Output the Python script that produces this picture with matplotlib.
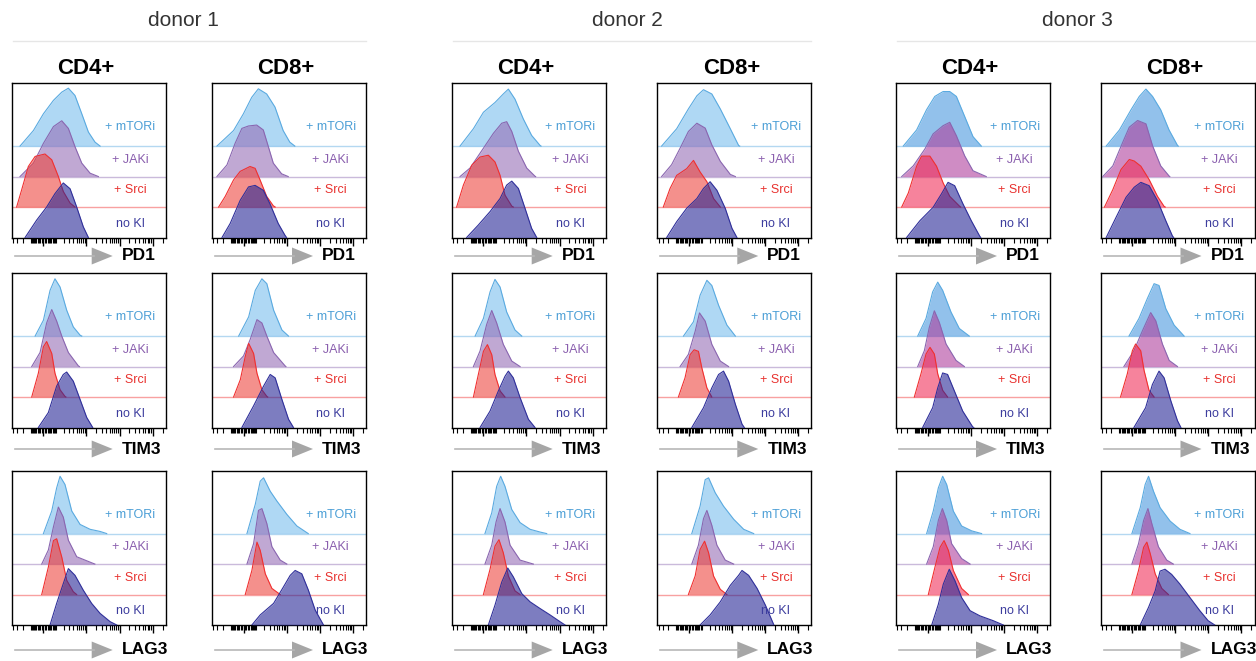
import numpy as np
import matplotlib

matplotlib.use("Agg")
import matplotlib.pyplot as plt
from matplotlib.patches import Polygon

plt.rcParams["font.family"] = ["Liberation Sans", "DejaVu Sans"]

DONORS = ["donor 1", "donor 2", "donor 3"]
CELLS = ["CD4+", "CD8+"]
MARKERS = ["PD1", "TIM3", "LAG3"]
CONDITIONS = ["+ mTORi", "+ JAKi", "+ Srci", "no KI"]

# each curve: (axis position 0..1, modal height in units of the stack offset)
# order inside a panel: mTORi, JAKi, Srci, no KI
D1_CD4_PD1 = [
    [(0.054, 0), (0.141, 0.51), (0.206, 1.06), (0.271, 1.50), (0.325, 1.77), (0.368, 1.90), (0.411, 1.66), (0.455, 1.06), (0.498, 0.46), (0.541, 0.13), (0.574, 0)],
    [(0.054, 0), (0.141, 0.44), (0.206, 1.09), (0.271, 1.64), (0.325, 1.83), (0.368, 1.58), (0.411, 0.98), (0.455, 0.44), (0.509, 0.11), (0.563, 0)],
    [(0.032, 0), (0.065, 0.57), (0.108, 1.33), (0.152, 1.66), (0.216, 1.74), (0.260, 1.55), (0.303, 1.00), (0.335, 0.51), (0.379, 0.13), (0.411, 0)],
    [(0.087, 0), (0.162, 0.57), (0.227, 1.00), (0.281, 1.44), (0.335, 1.79), (0.379, 1.60), (0.422, 1.00), (0.465, 0.35), (0.498, 0)],
]
D1_CD8_PD1 = [
    [(0.032, 0), (0.140, 0.51), (0.204, 1.06), (0.258, 1.60), (0.301, 1.88), (0.355, 1.71), (0.409, 1.28), (0.462, 0.51), (0.505, 0.13), (0.538, 0)],
    [(0.032, 0), (0.097, 0.38), (0.150, 1.09), (0.194, 1.58), (0.237, 1.66), (0.290, 1.69), (0.333, 1.53), (0.366, 0.98), (0.398, 0.44), (0.452, 0.09), (0.495, 0)],
    [(0.043, 0), (0.086, 0.35), (0.140, 0.89), (0.183, 1.17), (0.247, 1.33), (0.280, 1.27), (0.312, 0.89), (0.355, 0.35), (0.398, 0.04), (0.410, 0)],
    [(0.065, 0), (0.118, 0.46), (0.183, 1.22), (0.237, 1.66), (0.280, 1.71), (0.333, 1.55), (0.376, 1.11), (0.430, 0.46), (0.473, 0.08), (0.484, 0)],
]
D1_CD4_TIM3 = [
    [(0.152, 0), (0.206, 0.52), (0.249, 1.50), (0.281, 1.88), (0.314, 1.61), (0.357, 0.85), (0.400, 0.30), (0.444, 0.03), (0.455, 0)],
    [(0.130, 0), (0.184, 0.46), (0.227, 1.43), (0.260, 1.87), (0.292, 1.49), (0.325, 1.00), (0.368, 0.46), (0.433, 0.02), (0.440, 0)],
    [(0.130, 0), (0.173, 0.78), (0.206, 1.65), (0.227, 1.82), (0.260, 1.43), (0.281, 0.78), (0.314, 0.24), (0.346, 0.02), (0.352, 0)],
    [(0.173, 0), (0.238, 0.49), (0.292, 1.36), (0.335, 1.74), (0.357, 1.82), (0.400, 1.52), (0.444, 0.92), (0.487, 0.33), (0.526, 0)],
]
D1_CD8_TIM3 = [
    [(0.173, 0), (0.238, 0.63), (0.281, 1.50), (0.324, 1.88), (0.356, 1.72), (0.400, 0.85), (0.454, 0.20), (0.497, 0)],
    [(0.140, 0), (0.205, 0.35), (0.248, 0.89), (0.292, 1.54), (0.324, 1.43), (0.356, 1.00), (0.400, 0.46), (0.475, 0.02), (0.480, 0)],
    [(0.140, 0), (0.184, 0.57), (0.216, 1.33), (0.238, 1.76), (0.270, 1.43), (0.292, 0.78), (0.324, 0.24), (0.356, 0.02), (0.362, 0)],
    [(0.194, 0), (0.270, 0.71), (0.335, 1.36), (0.378, 1.74), (0.410, 1.63), (0.454, 0.92), (0.497, 0.27), (0.529, 0)],
]
D1_CD4_LAG3 = [
    [(0.206, 0), (0.260, 0.74), (0.292, 1.50), (0.314, 1.88), (0.346, 1.61), (0.390, 0.74), (0.444, 0.30), (0.509, 0.14), (0.574, 0.07), (0.617, 0)],
    [(0.195, 0), (0.238, 0.46), (0.271, 1.22), (0.303, 1.87), (0.335, 1.54), (0.368, 0.78), (0.422, 0.24), (0.530, 0.02), (0.540, 0)],
    [(0.195, 0), (0.238, 0.90), (0.271, 1.77), (0.292, 1.83), (0.325, 1.23), (0.357, 0.47), (0.400, 0.09), (0.422, 0)],
    [(0.249, 0), (0.292, 0.71), (0.335, 1.36), (0.368, 1.85), (0.411, 1.63), (0.465, 1.14), (0.519, 0.71), (0.574, 0.38), (0.639, 0.11), (0.682, 0)],
]
D1_CD8_LAG3 = [
    [(0.227, 0), (0.281, 0.96), (0.313, 1.72), (0.335, 1.83), (0.378, 1.39), (0.421, 1.07), (0.486, 0.63), (0.551, 0.25), (0.616, 0.03), (0.625, 0)],
    [(0.227, 0), (0.270, 0.67), (0.302, 1.76), (0.324, 1.82), (0.356, 1.33), (0.389, 0.57), (0.443, 0.13), (0.486, 0)],
    [(0.216, 0), (0.259, 0.79), (0.292, 1.72), (0.313, 1.45), (0.346, 0.68), (0.389, 0.20), (0.443, 0)],
    [(0.259, 0), (0.313, 0.33), (0.400, 0.71), (0.464, 1.25), (0.508, 1.63), (0.540, 1.79), (0.583, 1.68), (0.626, 1.14), (0.670, 0.49), (0.724, 0)],
]
D2_CD4_PD1 = [
    [(0.054, 0), (0.141, 0.57), (0.206, 1.11), (0.281, 1.43), (0.335, 1.71), (0.368, 1.87), (0.411, 1.54), (0.465, 0.89), (0.519, 0.35), (0.574, 0.02), (0.580, 0)],
    [(0.054, 0), (0.119, 0.28), (0.206, 0.93), (0.271, 1.42), (0.325, 1.75), (0.357, 1.80), (0.390, 1.48), (0.433, 0.83), (0.487, 0.28), (0.541, 0.01), (0.545, 0)],
    [(0.032, 0), (0.076, 0.72), (0.130, 1.37), (0.184, 1.64), (0.238, 1.70), (0.281, 1.48), (0.314, 1.04), (0.346, 0.39), (0.390, 0.03), (0.400, 0)],
    [(0.097, 0), (0.173, 0.41), (0.249, 0.85), (0.314, 1.28), (0.357, 1.72), (0.390, 1.85), (0.433, 1.61), (0.476, 0.96), (0.519, 0.30), (0.552, 0)],
]
D2_CD8_PD1 = [
    [(0.028, 0), (0.126, 0.57), (0.202, 1.22), (0.257, 1.65), (0.300, 1.85), (0.354, 1.71), (0.409, 1.22), (0.474, 0.57), (0.528, 0.02), (0.535, 0)],
    [(0.028, 0), (0.093, 0.39), (0.148, 0.93), (0.202, 1.48), (0.257, 1.75), (0.311, 1.59), (0.354, 1.04), (0.409, 0.50), (0.474, 0.07), (0.507, 0)],
    [(0.039, 0), (0.083, 0.61), (0.126, 1.04), (0.191, 1.26), (0.235, 1.53), (0.278, 1.15), (0.322, 0.83), (0.365, 0.28), (0.409, 0)],
    [(0.061, 0), (0.126, 0.52), (0.191, 0.96), (0.257, 1.28), (0.300, 1.61), (0.343, 1.83), (0.387, 1.55), (0.441, 0.96), (0.485, 0.30), (0.517, 0)],
]
D2_CD4_TIM3 = [
    [(0.152, 0), (0.206, 0.58), (0.249, 1.45), (0.281, 1.86), (0.314, 1.61), (0.357, 0.79), (0.411, 0.20), (0.455, 0)],
    [(0.141, 0), (0.184, 0.51), (0.227, 1.38), (0.260, 1.84), (0.292, 1.43), (0.335, 0.73), (0.390, 0.18), (0.444, 0)],
    [(0.141, 0), (0.173, 0.74), (0.206, 1.50), (0.232, 1.72), (0.260, 1.39), (0.281, 0.74), (0.314, 0.20), (0.346, 0)],
    [(0.184, 0), (0.249, 0.54), (0.303, 1.20), (0.346, 1.68), (0.368, 1.85), (0.400, 1.63), (0.444, 0.98), (0.498, 0.27), (0.541, 0)],
]
D2_CD8_TIM3 = [
    [(0.170, 0), (0.235, 0.47), (0.278, 1.34), (0.322, 1.83), (0.354, 1.66), (0.398, 1.01), (0.452, 0.36), (0.507, 0)],
    [(0.148, 0), (0.202, 0.40), (0.246, 1.16), (0.274, 1.76), (0.311, 1.49), (0.354, 0.73), (0.409, 0.18), (0.463, 0)],
    [(0.137, 0), (0.180, 0.63), (0.213, 1.39), (0.239, 1.55), (0.267, 1.50), (0.289, 0.96), (0.322, 0.30), (0.354, 0)],
    [(0.224, 0), (0.300, 0.65), (0.354, 1.30), (0.398, 1.74), (0.430, 1.85), (0.463, 1.52), (0.507, 0.76), (0.550, 0.11), (0.565, 0)],
]
D2_CD4_LAG3 = [
    [(0.216, 0), (0.260, 0.68), (0.292, 1.55), (0.318, 1.88), (0.346, 1.55), (0.390, 0.79), (0.444, 0.36), (0.509, 0.14), (0.574, 0.05), (0.617, 0)],
    [(0.216, 0), (0.260, 0.62), (0.288, 1.38), (0.314, 1.82), (0.346, 1.38), (0.379, 0.62), (0.444, 0.13), (0.530, 0)],
    [(0.206, 0), (0.249, 0.83), (0.281, 1.59), (0.307, 1.80), (0.335, 1.37), (0.368, 0.61), (0.411, 0.12), (0.444, 0)],
    [(0.238, 0), (0.281, 0.65), (0.325, 1.41), (0.364, 1.87), (0.400, 1.58), (0.455, 1.03), (0.509, 0.76), (0.574, 0.54), (0.639, 0.33), (0.703, 0.11), (0.736, 0)],
]
D2_CD8_LAG3 = [
    [(0.224, 0), (0.278, 0.90), (0.311, 1.77), (0.333, 1.83), (0.376, 1.34), (0.430, 0.90), (0.496, 0.47), (0.561, 0.14), (0.626, 0)],
    [(0.224, 0), (0.267, 0.62), (0.300, 1.49), (0.322, 1.76), (0.354, 1.27), (0.387, 0.62), (0.441, 0.13), (0.496, 0)],
    [(0.202, 0), (0.246, 0.61), (0.278, 1.48), (0.307, 1.75), (0.333, 1.37), (0.365, 0.61), (0.409, 0.17), (0.452, 0)],
    [(0.278, 0), (0.343, 0.33), (0.409, 0.76), (0.474, 1.30), (0.528, 1.63), (0.550, 1.79), (0.593, 1.63), (0.648, 1.20), (0.702, 0.65), (0.757, 0)],
]
D3_CD4_PD1 = [
    [(0.047, 0), (0.134, 0.53), (0.198, 1.19), (0.252, 1.63), (0.306, 1.79), (0.349, 1.79), (0.392, 1.63), (0.446, 0.97), (0.500, 0.31), (0.554, 0)],
    [(0.037, 0), (0.112, 0.35), (0.187, 0.90), (0.241, 1.40), (0.306, 1.67), (0.349, 1.78), (0.392, 1.34), (0.446, 0.68), (0.500, 0.19), (0.586, 0)],
    [(0.037, 0), (0.080, 0.46), (0.134, 1.34), (0.166, 1.67), (0.220, 1.67), (0.263, 1.34), (0.306, 0.79), (0.349, 0.35), (0.414, 0.02), (0.420, 0)],
    [(0.069, 0), (0.155, 0.55), (0.241, 0.99), (0.295, 1.43), (0.338, 1.81), (0.381, 1.70), (0.435, 1.10), (0.489, 0.55), (0.543, 0.05), (0.550, 0)],
]
D3_CD8_PD1 = [
    [(0.037, 0), (0.123, 0.53), (0.198, 1.19), (0.252, 1.63), (0.295, 1.87), (0.338, 1.63), (0.391, 1.19), (0.445, 0.53), (0.499, 0.03), (0.505, 0)],
    [(0.015, 0), (0.080, 0.35), (0.144, 1.12), (0.187, 1.62), (0.241, 1.84), (0.295, 1.73), (0.338, 1.01), (0.391, 0.35), (0.445, 0.02), (0.450, 0)],
    [(0.026, 0), (0.080, 0.57), (0.133, 1.23), (0.187, 1.56), (0.219, 1.51), (0.262, 1.34), (0.316, 0.90), (0.370, 0.35), (0.413, 0.02), (0.420, 0)],
    [(0.037, 0), (0.101, 0.66), (0.166, 1.32), (0.219, 1.65), (0.262, 1.81), (0.316, 1.70), (0.370, 1.21), (0.424, 0.55), (0.467, 0.05), (0.475, 0)],
]
D3_CD4_TIM3 = [
    [(0.141, 0), (0.195, 0.58), (0.238, 1.45), (0.271, 1.77), (0.303, 1.50), (0.357, 0.79), (0.411, 0.25), (0.476, 0)],
    [(0.141, 0), (0.184, 0.52), (0.216, 1.28), (0.249, 1.83), (0.281, 1.45), (0.325, 0.74), (0.390, 0.20), (0.444, 0)],
    [(0.119, 0), (0.162, 0.76), (0.195, 1.41), (0.221, 1.63), (0.249, 1.41), (0.271, 0.76), (0.303, 0.22), (0.335, 0)],
    [(0.173, 0), (0.238, 0.65), (0.271, 1.30), (0.303, 1.79), (0.335, 1.74), (0.379, 1.20), (0.433, 0.54), (0.498, 0.02), (0.505, 0)],
]
D3_CD8_TIM3 = [
    [(0.185, 0), (0.250, 0.58), (0.304, 1.23), (0.348, 1.72), (0.380, 1.66), (0.424, 0.90), (0.478, 0.36), (0.543, 0)],
    [(0.152, 0), (0.217, 0.52), (0.272, 1.17), (0.326, 1.77), (0.359, 1.50), (0.402, 0.74), (0.446, 0.20), (0.500, 0)],
    [(0.130, 0), (0.174, 0.76), (0.207, 1.52), (0.228, 1.74), (0.261, 1.52), (0.283, 0.87), (0.315, 0.22), (0.348, 0)],
    [(0.217, 0), (0.293, 0.65), (0.337, 1.41), (0.380, 1.85), (0.413, 1.63), (0.457, 0.87), (0.500, 0.22), (0.522, 0)],
]
D3_CD4_LAG3 = [
    [(0.199, 0), (0.242, 0.74), (0.275, 1.50), (0.303, 1.88), (0.329, 1.61), (0.372, 0.74), (0.426, 0.25), (0.491, 0.09), (0.556, 0)],
    [(0.199, 0), (0.242, 0.57), (0.275, 1.43), (0.301, 1.82), (0.329, 1.43), (0.361, 0.67), (0.426, 0.18), (0.481, 0)],
    [(0.210, 0), (0.253, 0.90), (0.286, 1.55), (0.312, 1.77), (0.340, 1.45), (0.372, 0.79), (0.426, 0.20), (0.470, 0)],
    [(0.232, 0), (0.275, 0.68), (0.307, 1.34), (0.346, 1.83), (0.383, 1.45), (0.426, 0.90), (0.481, 0.47), (0.545, 0.30), (0.632, 0.14), (0.697, 0)],
]
D3_CD8_LAG3 = [
    [(0.204, 0), (0.258, 0.85), (0.290, 1.61), (0.312, 1.88), (0.344, 1.39), (0.387, 0.85), (0.452, 0.41), (0.516, 0.14), (0.581, 0)],
    [(0.204, 0), (0.247, 0.67), (0.280, 1.43), (0.308, 1.82), (0.333, 1.33), (0.376, 0.57), (0.430, 0.13), (0.473, 0)],
    [(0.204, 0), (0.247, 0.79), (0.280, 1.55), (0.301, 1.72), (0.323, 1.34), (0.355, 0.68), (0.398, 0.20), (0.441, 0)],
    [(0.258, 0), (0.312, 0.58), (0.355, 1.12), (0.387, 1.77), (0.419, 1.83), (0.462, 1.66), (0.516, 1.34), (0.581, 0.90), (0.645, 0.47), (0.699, 0.14), (0.742, 0)],
]

PANELS = {
    (0, 0, "PD1"): D1_CD4_PD1, (0, 1, "PD1"): D1_CD8_PD1,
    (0, 0, "TIM3"): D1_CD4_TIM3, (0, 1, "TIM3"): D1_CD8_TIM3,
    (0, 0, "LAG3"): D1_CD4_LAG3, (0, 1, "LAG3"): D1_CD8_LAG3,
    (1, 0, "PD1"): D2_CD4_PD1, (1, 1, "PD1"): D2_CD8_PD1,
    (1, 0, "TIM3"): D2_CD4_TIM3, (1, 1, "TIM3"): D2_CD8_TIM3,
    (1, 0, "LAG3"): D2_CD4_LAG3, (1, 1, "LAG3"): D2_CD8_LAG3,
    (2, 0, "PD1"): D3_CD4_PD1, (2, 1, "PD1"): D3_CD8_PD1,
    (2, 0, "TIM3"): D3_CD4_TIM3, (2, 1, "TIM3"): D3_CD8_TIM3,
    (2, 0, "LAG3"): D3_CD4_LAG3, (2, 1, "LAG3"): D3_CD8_LAG3,
}

# styling
FILL = ["#7bbeed", "#966eb7", "#ed463f", "#262696"]
FILL_D3 = ["#4a98de", "#b0409e", "#f0305a", "#262696"]
EDGE = ["#5aaae0", "#8a66b0", "#f03030", "#30309a"]
TEXT = ["#4c9fd6", "#8a5fae", "#e8312e", "#3d3d9e"]
BASELINE = [3, 2, 1, 0]
LABEL_DY = [0.62, 0.55, 0.55, 0.45]
YTOP = 5.07

W, H = 1256, 661
PANEL_LEFT = [[11.7, 212.0], [451.7, 657.3], [896.0, 1100.5]]
PANEL_W = 154.0
ROW_TOP = [83.0, 273.0, 470.5]
PANEL_H = 154.5
ARROW_Y = [256, 449, 650]
DONOR_X = [183, 627, 1077]

# biexponential-like display axis (arcsinh)
COF, VMIN, VMAX = 100.0, -445.0, 248000.0


def to_display(v):
    a0, a1 = np.arcsinh(VMIN / COF), np.arcsinh(VMAX / COF)
    return (np.arcsinh(np.asarray(v, float) / COF) - a0) / (a1 - a0)


major_vals = [0, 1e3, 1e4, 1e5]
minor_vals = [s * k * d for d in (10, 100) for k in range(1, 10) for s in (-1, 1)]
minor_vals += [k * d for d in (1e3, 1e4) for k in range(2, 10)] + [2e5]
minor_vals = [v for v in minor_vals if VMIN < v < VMAX]

fig = plt.figure(figsize=(W / 100, H / 100), dpi=100)

for d in range(3):
    for c in range(2):
        for r, marker in enumerate(MARKERS):
            left = PANEL_LEFT[d][c]
            top = ROW_TOP[r]
            ax = fig.add_axes([left / W, 1 - (top + PANEL_H) / H, PANEL_W / W, PANEL_H / H])
            fills = FILL_D3 if d == 2 else FILL
            for i, curve in enumerate(PANELS[(d, c, marker)]):
                xs = [p[0] for p in curve]
                ys = [BASELINE[i] + p[1] for p in curve]
                if BASELINE[i] > 0:
                    ax.axhline(BASELINE[i], color=EDGE[i], lw=1.0, alpha=0.45, zorder=1)
                ax.fill_between(xs, BASELINE[i], ys, color=fills[i], alpha=0.6, lw=0, zorder=2 + i)
                ax.plot(xs, ys, color=EDGE[i], lw=0.8, zorder=2 + i)
                ax.text(0.77, BASELINE[i] + LABEL_DY[i], CONDITIONS[i], color=TEXT[i],
                        fontsize=9, ha="center", va="center", zorder=10)
            ax.set_xlim(0, 1)
            ax.set_ylim(0, YTOP)
            ax.set_yticks([])
            ax.set_xticks(to_display(major_vals))
            ax.set_xticks(to_display(minor_vals), minor=True)
            ax.set_xticklabels([])
            ax.tick_params(axis="x", which="major", direction="out", length=5.5, width=1.0)
            ax.tick_params(axis="x", which="minor", direction="out", length=3.5, width=0.8)
            for sp in ax.spines.values():
                sp.set_linewidth(1.0)

# overlay in pixel coordinates for titles, separators and axis arrows
ov = fig.add_axes([0, 0, 1, 1], zorder=20)
ov.set_xlim(0, W)
ov.set_ylim(H, 0)
ov.axis("off")

for d in range(3):
    ov.text(DONOR_X[d], 20, DONORS[d], fontsize=15, color="#333333", ha="center", va="center")
    x0 = PANEL_LEFT[d][0]
    x1 = PANEL_LEFT[d][1] + PANEL_W
    ov.plot([x0 + 1, x1], [40.5, 40.5], color="#e6e6e6", lw=1.0)
    for c in range(2):
        left = PANEL_LEFT[d][c]
        ov.text(left + PANEL_W / 2 - 3, 68, CELLS[c], fontsize=16, fontweight="bold",
                ha="center", va="center")
        for r, marker in enumerate(MARKERS):
            y = ARROW_Y[r]
            ov.plot([left + 3, left + 82], [y, y], color="#b8b8b8", lw=1.2)
            ov.add_patch(Polygon([[left + 80, y - 8.5], [left + 80, y + 8.5], [left + 101, y]],
                                 closed=True, color="#a6a6a6", lw=0))
            ov.text(left + 110, y, marker, fontsize=12.5, fontweight="bold", ha="left", va="center")

fig.savefig("out.png", dpi=100)
